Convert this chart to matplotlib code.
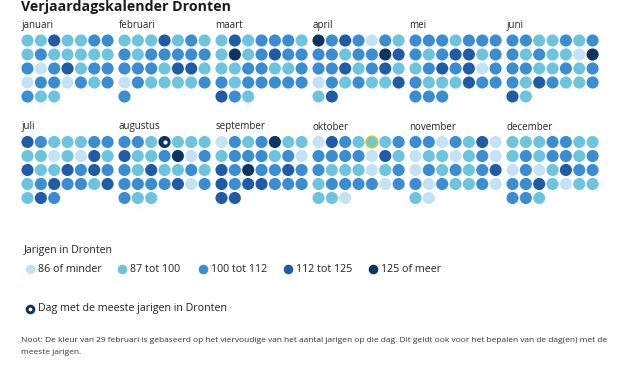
import matplotlib
matplotlib.use("Agg")
import matplotlib.pyplot as plt

plt.rcParams['font.family'] = ['Open Sans', 'DejaVu Sans']

months = ["januari", "februari", "maart", "april", "mei", "juni",
          "juli", "augustus", "september", "oktober", "november", "december"]

# colour class per day (0 = 86 of minder ... 4 = 125 of meer)
januari = [1,1,3,1,1,2,2, 1,2,1,1,1,1,1, 2,0,2,3,1,2,2, 0,2,2,0,2,1,2, 2,1,1]
februari = [1,1,1,3,1,2,1, 2,1,2,2,2,2,2, 2,2,2,1,3,3,1, 0,2,1,1,1,1,2, 2]
maart = [1,3,1,2,2,2,1, 1,4,1,2,3,2,2, 1,1,2,2,1,1,2, 2,1,2,2,2,2,2, 3,2,1]
april = [4,2,3,2,0,2,1, 2,2,1,2,2,4,3, 2,2,3,1,2,3,1, 0,2,1,2,1,1,3, 1,3]
mei = [2,2,2,1,2,2,2, 2,1,2,3,3,1,2, 1,2,3,2,3,0,2, 2,1,1,1,3,2,2, 2,2,2]
juni = [2,2,1,1,2,1,2, 2,1,2,1,1,0,4, 2,2,1,1,2,1,2, 2,1,3,2,1,1,2, 3,1]
juli = [3,2,1,1,1,2,2, 1,1,0,1,0,3,1, 3,1,1,3,2,3,2, 1,2,3,2,2,1,3, 1,3,2]
augustus = [2,2,1,4,1,1,1, 3,1,1,2,4,0,2, 2,1,3,1,1,2,1, 2,2,2,2,3,0,2, 2,1,1]
september = [0,2,1,2,4,1,1, 1,2,2,2,1,2,0, 3,2,4,2,2,3,2, 3,2,3,3,2,2,2, 3,3]
oktober = [0,3,2,1,1,1,2, 2,2,2,2,0,3,1, 2,1,1,1,0,1,2, 1,2,2,2,2,0,2, 1,1,0]
november = [2,2,0,2,1,3,0, 0,1,1,0,1,2,0, 0,2,1,2,1,2,3, 2,0,2,1,1,2,0, 1,0]
december = [1,1,1,2,2,1,1, 1,2,1,2,2,1,2, 0,2,0,1,3,2,2, 2,2,3,1,0,1,1, 2,2,1]

month_data = [januari, februari, maart, april, mei, juni,
              juli, augustus, september, oktober, november, december]

legend_labels = ["86 of minder", "87 tot 100", "100 tot 112", "112 tot 125", "125 of meer"]
colors = ["#c4e2f6", "#6cc4df", "#3a8dd3", "#1f5ba6", "#0e3463"]

max_day = ("augustus", 4)      # dag met de meeste jarigen
ring_day = ("oktober", 5)      # gemarkeerde dag

fig = plt.figure(figsize=(6.2, 3.65), dpi=100)
ax = fig.add_axes([0, 0, 1, 1])
ax.set_xlim(0, 620)
ax.set_ylim(365, 0)
ax.axis("off")

dot_s = 76
col_w = 97.0
dx = 13.35
dy = 14.0

ax.text(21, 10.5, "Verjaardagskalender Dronten", fontsize=10.2, fontweight="bold",
        color="#1a1a1a", va="baseline", ha="left")

for mi, (name, vals) in enumerate(zip(months, month_data)):
    r = mi // 6
    c = mi % 6
    x0 = 27.5 + c * col_w
    y0 = 40.5 + r * 101.5
    ax.text(x0 - 6, y0 - 15, name, fontsize=7, color="#222222", va="center", ha="left")
    xs = [x0 + (d % 7) * dx for d in range(len(vals))]
    ys = [y0 + (d // 7) * dy for d in range(len(vals))]
    cs = [colors[v] for v in vals]
    ax.scatter(xs, ys, s=dot_s, c=cs, linewidths=0, zorder=2)
    if name == max_day[0]:
        d = max_day[1] - 1
        ax.scatter([xs[d]], [ys[d]], s=9, c="white", linewidths=0, zorder=3)
    if name == ring_day[0]:
        d = ring_day[1] - 1
        ax.scatter([xs[d]], [ys[d]], s=dot_s * 0.85, facecolors="none",
                   edgecolors="#b8cf3c", linewidths=1.4, zorder=3)

# legend
ax.text(24, 250, "Jarigen in Dronten", fontsize=7.6, color="#222222", va="center", ha="left")
leg_x = [30, 122, 203, 288, 373]
for lx, lab, col in zip(leg_x, legend_labels, colors):
    ax.scatter([lx], [269], s=48, c=[col], linewidths=0)
    ax.text(lx + 8, 269, lab, fontsize=7.7, color="#222222", va="center", ha="left")

ax.scatter([30], [309], s=48, c=[colors[4]], linewidths=0)
ax.scatter([30], [309], s=7, c="white", linewidths=0)
ax.text(38, 309, "Dag met de meeste jarigen in Dronten", fontsize=7.7,
        color="#222222", va="center", ha="left")

ax.text(21, 340, "Noot: De kleur van 29 februari is gebaseerd op het viervoudige van het aantal jarigen op die dag. "
        "Dit geldt ook voor het bepalen van de dag(en) met de", fontsize=6.05, color="#333333",
        va="center", ha="left")
ax.text(21, 352, "meeste jarigen.", fontsize=6.05, color="#333333", va="center", ha="left")

fig.savefig("out.png", dpi=100, facecolor="white")
